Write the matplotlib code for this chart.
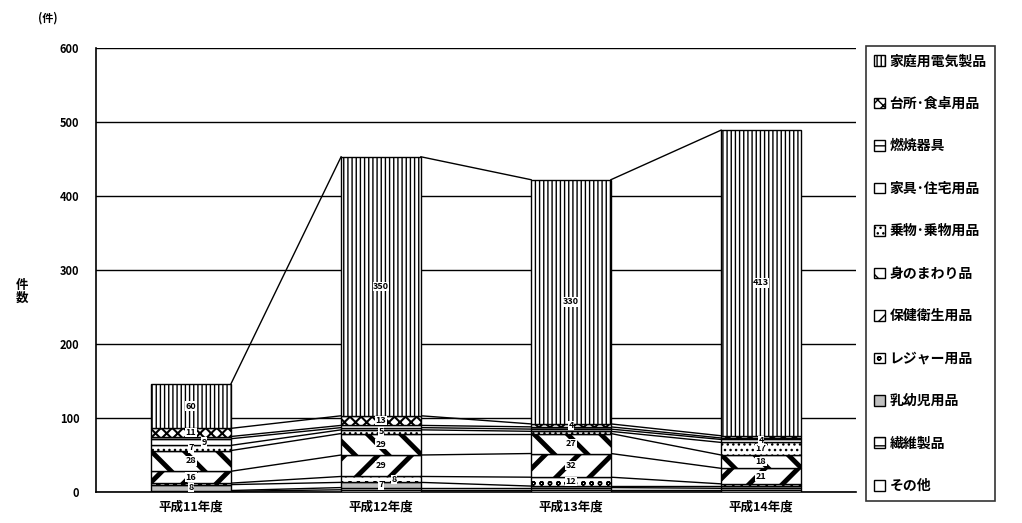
import matplotlib
matplotlib.use("Agg")
import matplotlib.pyplot as plt
import matplotlib.patches as mpatches
import numpy as np

plt.rcParams['font.family'] = ['Noto Sans CJK JP', 'DejaVu Sans']
plt.rcParams['hatch.linewidth'] = 1.0

years = ['平成11年度', '平成12年度', '平成13年度', '平成14年度']

# stacking order: bottom -> top
categories = ['その他', '繊維製品', '乳幼児用品', 'レジャー用品', '保健衛生用品',
              '身のまわり品', '乗物･乗物用品', '家具･住宅用品', '燃焼器具',
              '台所･食卓用品', '家庭用電気製品']

sonota    = [1, 3, 3, 3]
seni      = [1, 3, 3, 2]
nyuyoji   = [8, 7, 2, 3]
leisure   = [2, 8, 12, 3]
hoken     = [16, 29, 32, 21]
mimawari  = [28, 29, 27, 18]
norimono  = [7, 5, 3, 17]
kagu      = [9, 3, 3, 4]
nensho    = [3, 3, 3, 2]
daidokoro = [11, 13, 4, 3]
denki     = [60, 350, 330, 413]

values = [sonota, seni, nyuyoji, leisure, hoken, mimawari,
          norimono, kagu, nensho, daidokoro, denki]

# look of each series (same order)
faces = ['white', 'white', '#c0c0c0', 'white', 'white', 'white',
         'white', 'white', 'white', 'white', 'white']
hatches = ['', '--', '', 'oo', '/', '\\', '...', '', '--', 'xxx', '||||']
hlw = [1, 1, 1, 1, 3.5, 3.5, 1, 1, 1, 1.5, 1]

fig = plt.figure(figsize=(10.22, 5.23), dpi=100)
ax = fig.add_axes([96 / 1022, 31 / 523, 760 / 1022, 444 / 523])

x = np.arange(len(years))
w = 0.42
bottom = np.zeros(len(years))
last_lab = [-100.0] * len(years)
tops = []
for s, vals in enumerate(values):
    vals = np.array(vals, dtype=float)
    bars = ax.bar(x, vals, w, bottom=bottom, color=faces[s], edgecolor='black',
                  linewidth=1.0, hatch=hatches[s], zorder=3)
    for b in bars:
        try:
            b.set_hatch_linewidth(hlw[s])
        except AttributeError:
            pass
    for i, v in enumerate(vals):
        if v >= 4:
            yc = bottom[i] + v / 2
            # crowded labels get pushed a little to the right, like the original
            dx = 0.07 if yc - last_lab[i] < 9 else 0.0
            ax.text(x[i] + dx, yc, f"{int(v)}", ha='center', va='center',
                    fontsize=6.5, fontweight='bold', zorder=5,
                    bbox=dict(facecolor='white', edgecolor='none', pad=0.2))
            last_lab[i] = yc
    bottom = bottom + vals
    tops.append(bottom.copy())

# series lines between bars
for t in tops:
    for i in range(len(years) - 1):
        ax.plot([x[i] + w / 2, x[i + 1] - w / 2], [t[i], t[i + 1]],
                color='black', linewidth=1.0, zorder=2)

ax.set_xlim(-0.5, len(years) - 0.5)
ax.set_ylim(0, 600)
ax.set_yticks(range(0, 601, 100))
ax.set_yticklabels([str(v) for v in range(0, 601, 100)], fontsize=8, fontweight='bold')
ax.set_xticks(x)
ax.set_xticklabels(years, fontsize=9, fontweight='bold')
ax.tick_params(axis='y', length=0, pad=12)
ax.tick_params(axis='x', length=0, pad=6)
ax.grid(axis='y', color='black', linewidth=1.0, zorder=0)
for side in ['top', 'right']:
    ax.spines[side].set_visible(False)
ax.spines['left'].set_linewidth(1.2)
ax.spines['bottom'].set_linewidth(1.2)

fig.text(22 / 1022, 1 - 292 / 523, '件\n数', fontsize=9, fontweight='bold',
         ha='center', va='center', linespacing=1.0)
fig.text(48 / 1022, 1 - 18 / 523, '(件)', fontsize=8, fontweight='bold',
         ha='center', va='center')

handles = []
for s in range(len(categories) - 1, -1, -1):
    p = mpatches.Patch(facecolor=faces[s], edgecolor='black', hatch=hatches[s],
                       label=categories[s])
    handles.append(p)
leg = fig.legend(handles=handles, loc='upper left',
                 bbox_to_anchor=(866 / 1022, 1 - 46 / 523), fontsize=10,
                 frameon=True, fancybox=False, edgecolor='black',
                 handlelength=0.8, handleheight=0.8, handletextpad=0.3,
                 labelspacing=2.05, borderpad=0.6, borderaxespad=0)
leg.get_frame().set_linewidth(1.2)
for t in leg.get_texts():
    t.set_fontweight('bold')

fig.savefig('out.png', dpi=100)
